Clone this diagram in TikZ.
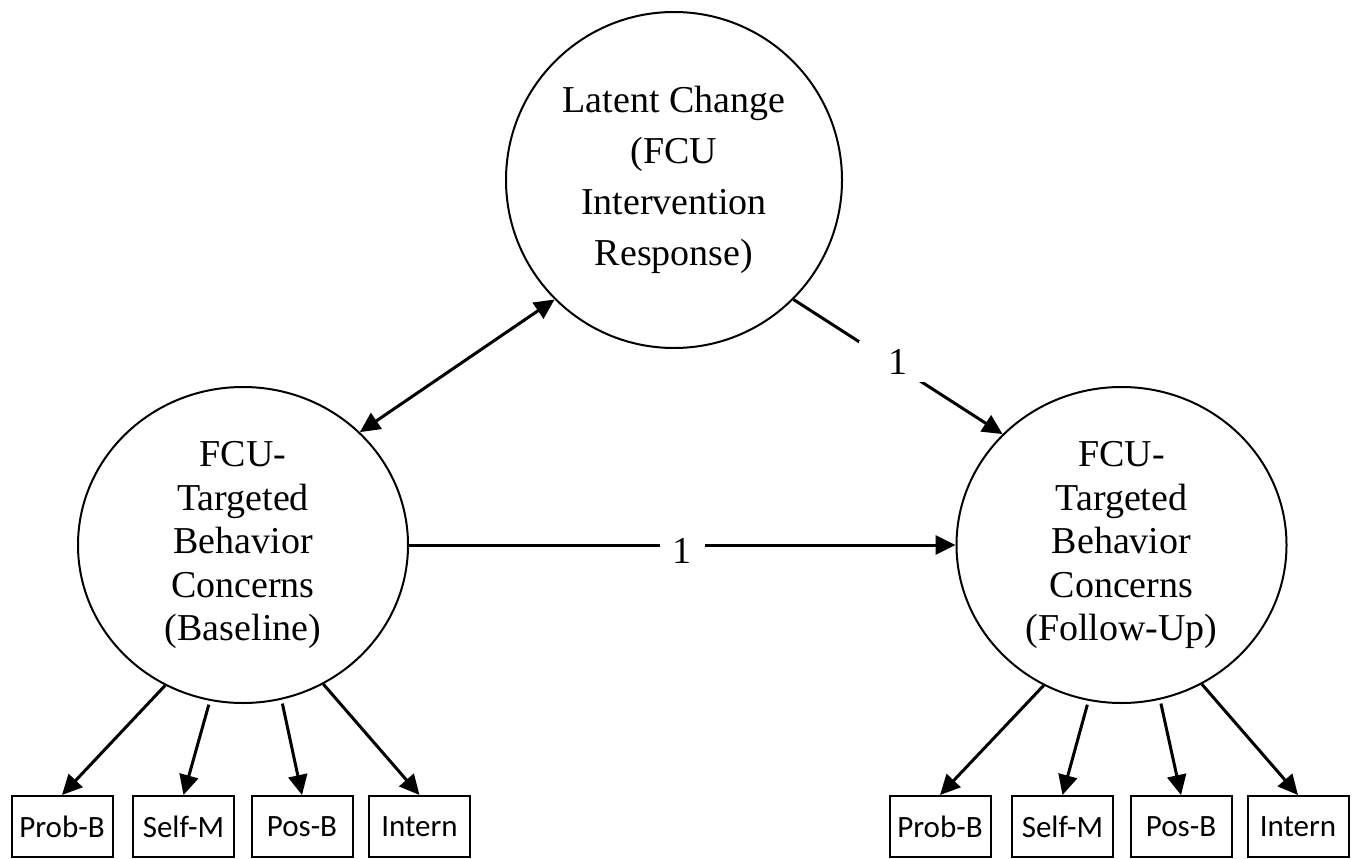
\documentclass[tikz,border=0pt]{standalone}
\usepackage{fontspec}
\setmainfont{Liberation Serif}
\newfontfamily\boxfont{Carlito}
\usetikzlibrary{arrows.meta,shapes.geometric}
\begin{document}
\begin{tikzpicture}[x=1pt,y=-1pt,
  latent/.style={draw, line width=2pt, ellipse, inner sep=0pt, align=center,
    minimum width=330pt, minimum height=316pt,
    font=\fontsize{38}{43.5}\selectfont},
  obs/.style={draw, line width=2pt, rectangle, inner sep=0pt,
    minimum width=101pt, minimum height=61pt,
    font=\boxfont\fontsize{31}{34}\selectfont},
  conn/.style={line width=3pt, -{Triangle[length=20pt,width=19pt]}},
  bothconn/.style={line width=3pt, {Triangle[length=20pt,width=19pt]}-{Triangle[length=20pt,width=19pt]}},
  lab/.style={fill=white, inner xsep=13pt, inner ysep=8pt, font=\fontsize{38}{43.5}\selectfont}
]
\useasboundingbox (0,0) rectangle (1357,859);

\node[latent, minimum width=336pt, minimum height=336pt,
  font=\fontsize{38}{51}\selectfont] (T) at (674,180)
  {Latent Change\\(FCU\\Intervention\\Response)};
\node[latent] (L) at (243,545) {FCU-\\Targeted\\Behavior\\Concerns\\(Baseline)};
\node[latent] (R) at (1121.5,545) {FCU-\\Targeted\\Behavior\\Concerns\\(Follow-Up)};

\node[obs] (lb1) at (62,826.5) {Prob-B};
\node[obs] (lb2) at (183.5,826.5) {Self-M};
\node[obs] (lb3) at (302,826.5) {Pos-B};
\node[obs] (lb4) at (419.5,826.5) {Intern};

\node[obs] (rb1) at (940,826.5) {Prob-B};
\node[obs] (rb2) at (1062.5,826.5) {Self-M};
\node[obs] (rb3) at (1181,826.5) {Pos-B};
\node[obs] (rb4) at (1298,826.5) {Intern};

\draw[conn] (L.241) -- (lb1.north);
\draw[conn, shorten <=4pt] (L.258) -- (lb2.north);
\draw[conn, shorten <=4pt] (L.284) -- (lb3.north);
\draw[conn] (L.300) -- (lb4.north);

\draw[conn] (R.241) -- (rb1.north);
\draw[conn, shorten <=4pt] (R.258) -- (rb2.north);
\draw[conn, shorten <=4pt] (R.284) -- (rb3.north);
\draw[conn] (R.300) -- (rb4.north);

\draw[bothconn] (T.225) -- (L.44);
\draw[conn] (T.315) -- node[lab, inner xsep=30pt, yshift=5pt] {1} (R.137);
\draw[conn] (L.east) -- node[lab, yshift=-6pt] {1} (R.west);
\end{tikzpicture}
\end{document}
